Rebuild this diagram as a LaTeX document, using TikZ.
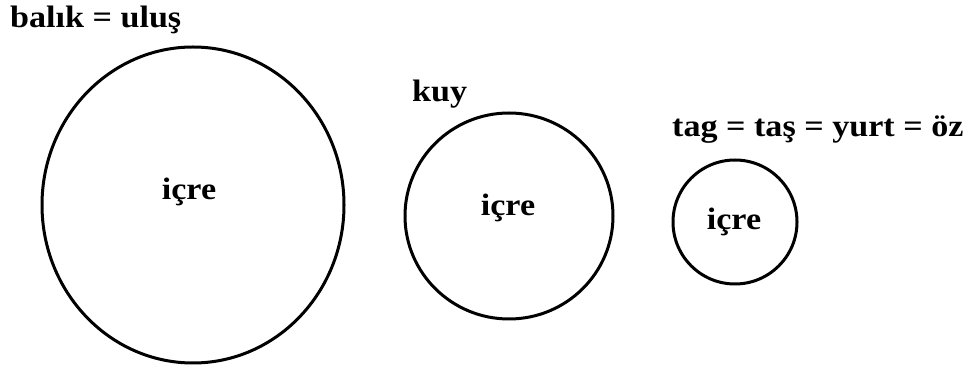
\documentclass[tikz,border=0pt]{standalone}
\usepackage{fontspec}
\setmainfont{Liberation Serif}[FakeStretch=1.1]
\usepackage{tikz}
\tikzset{
  ring/.style={draw=black,line width=3pt},
  heading/.style={anchor=base west,inner sep=0pt,font=\fontsize{31}{35}\selectfont\bfseries},
  inword/.style={anchor=base,inner sep=0pt,font=\fontsize{31}{35}\selectfont\bfseries}
}

\begin{document}
\begin{tikzpicture}[x=1pt,y=1pt]
\useasboundingbox (0,0) rectangle (970,369);
% three rings, largest on the left
\draw[ring] (193,164) ellipse (151 and 158);
\draw[ring] (509,153) ellipse (104 and 103);
\draw[ring] (735,147) circle (62);
\node[inword] (inbig) at (189,169) {içre};
\node[inword] (inmid) at (508,153) {içre};
\node[inword] (insmall) at (734,139) {içre};
\node[heading] (balik) at (10,341) {balık = uluş};
\node[heading] (kuy) at (412,267) {kuy};
\node[heading] (tag) at (672,232) {tag = taş = yurt = öz};
\end{tikzpicture}
\end{document}
